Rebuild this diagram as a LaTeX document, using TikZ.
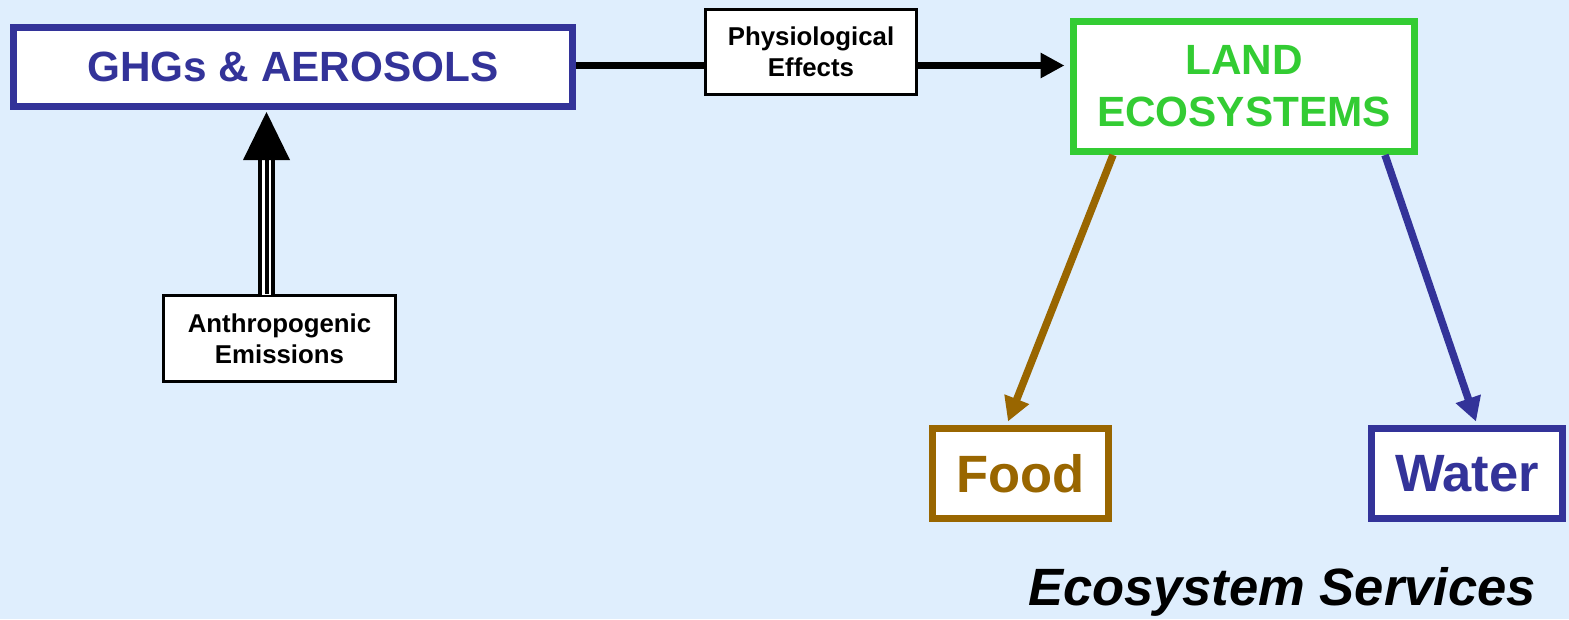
\documentclass[tikz,border=0pt]{standalone}
\usepackage{fontspec}
\setmainfont{Liberation Sans}
\usetikzlibrary{arrows.meta,calc}
\definecolor{bgblue}{HTML}{DFEEFD}
\definecolor{navy}{HTML}{333399}
\definecolor{leafgreen}{HTML}{33CC33}
\definecolor{brownish}{HTML}{996600}
\tikzset{
  bigbox/.style={draw, line width=7pt, fill=white, inner sep=0pt, align=center,
    font=\fontsize{42.3}{52}\selectfont\bfseries},
  smallbox/.style={draw=black, line width=3pt, fill=white, inner sep=0pt, align=center,
    font=\fontsize{25.8}{31}\selectfont\bfseries},
  resbox/.style={draw, line width=7pt, fill=white, inner sep=0pt, align=center,
    font=\fontsize{52.5}{60}\selectfont\bfseries},
  conn/.style={line width=7pt},
  slant/.style={line width=7.5pt, -{Triangle[length=24pt,width=25pt]}},
}
\begin{document}
\begin{tikzpicture}[x=1pt,y=-1pt]
\fill[bgblue] (0,0) rectangle (1569,619);
\useasboundingbox (0,0) rectangle (1569,619);

\node[bigbox, draw=navy, text=navy, minimum width=559pt, minimum height=79pt] (ghg) at (293,67) {GHGs \& AEROSOLS};
\node[smallbox, minimum width=211pt, minimum height=85pt] (phys) at (811,52) {Physiological\\Effects};
\node[bigbox, draw=leafgreen, text=leafgreen, minimum width=341pt, minimum height=130pt] (land) at (1244,86.5) {LAND\\ECOSYSTEMS};
\node[smallbox, minimum width=232pt, minimum height=86pt] (anth) at (279.5,338.5) {Anthropogenic\\Emissions};
\node[resbox, draw=brownish, text=brownish, minimum width=176pt, minimum height=90pt] (food) at (1020.5,473.5) {Food};
\node[resbox, draw=navy, text=navy, minimum width=191pt, minimum height=90pt] (water) at (1467,473.5) {Water};
\node[font=\fontsize{52.5}{60}\selectfont\bfseries\itshape, inner sep=0pt] (es) at (1282,592) {Ecosystem Services};

% GHGs -> Physiological -> Land
\draw[conn] ([yshift=1.5pt]ghg.east) -- ([yshift=1.5pt]phys.west |- ghg.east);
\draw[conn, -{Triangle[length=24pt,width=24pt]}] ([yshift=1.5pt]phys.east |- ghg.east) -- ([xshift=-5.5pt,yshift=1.5pt]land.west |- ghg.east);

% Land -> Food, Land -> Water
\draw[slant, brownish] ([xshift=-131pt]land.south) -- ([xshift=-12.5pt,yshift=3.5pt]food.north);
\draw[slant, navy] ([xshift=141pt]land.south) -- ([xshift=9pt,yshift=3.5pt]water.north);

% Anthropogenic -> GHGs (triple-line arrow)
\coordinate (tb) at ([xshift=-13pt]anth.north);
\coordinate (tt) at ([xshift=-26.5pt,yshift=-2pt]ghg.south);
\draw[line width=17pt, black] (tb) -- ($(tt)+(0,47)$);
\draw[line width=9pt, white] ([yshift=-0.5pt]tb) -- ($(tt)+(0,47)$);
\draw[line width=4pt, black] (tb) -- ($(tt)+(0,47)$);
\fill[black] (tt) -- ($(tt)+(-23.5,48)$) -- ($(tt)+(23.5,48)$) -- cycle;
\end{tikzpicture}
\end{document}
